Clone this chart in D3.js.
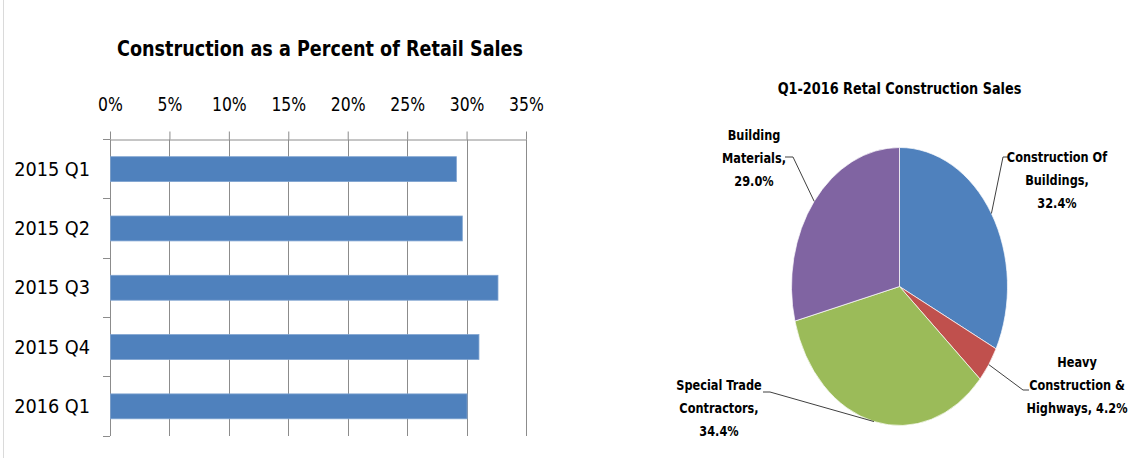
<!DOCTYPE html>
<html>
<head>
<meta charset="utf-8">
<script src="https://cdn.jsdelivr.net/npm/d3@7"></script>
<style>
body { margin: 0; background: #fff; }
svg { display: block; }
text { font-family: "DejaVu Sans Condensed", "Liberation Sans Narrow", sans-serif; fill: #000; }
</style>
</head>
<body>
<div id="chart-area"></div>
<script>
// bar chart data
var quarters = ["2015 Q1", "2015 Q2", "2015 Q3", "2015 Q4", "2016 Q1"];
var constructionPct = [29.1, 29.6, 32.6, 31.0, 30.0];
var pctTicks = [0, 5, 10, 15, 20, 25, 30, 35];

// pie data
var segments = ["Construction Of Buildings", "Heavy Construction & Highways", "Special Trade Contractors", "Building Materials"];
var segmentPct = [32.4, 4.2, 34.4, 29.0];
var segmentColors = ["#4f81bd", "#c0504d", "#9bbb59", "#8064a2"];
var labelWraps = [[2, 1, 1], [1, 2, 2], [2, 1, 1], [1, 1, 1]]; // words per line

var svg = d3.select("#chart-area").append("svg")
    .attr("width", 1128)
    .attr("height", 463);

svg.append("line")
    .attr("x1", 3.5).attr("x2", 3.5)
    .attr("y1", 0).attr("y2", 458)
    .attr("stroke", "#dadada");

// the source glyphs are a little taller than the substitute font
function tallText(g, str, x, y, size, stretch, anchor, bold) {
    return g.append("text")
        .attr("transform", "translate(" + x + "," + y + ") scale(1," + stretch + ")")
        .attr("text-anchor", anchor)
        .attr("dominant-baseline", "central")
        .style("font-size", size + "px")
        .style("font-weight", bold ? "bold" : "normal")
        .text(str);
}

// ---------- left: bar chart ----------
var x = d3.scaleLinear().domain([0, 35]).range([110, 526]);
var y = d3.scaleBand().domain(quarters).range([139.5, 436])
    .paddingInner(0.58).paddingOuter(0.29);

tallText(svg, "Construction as a Percent of Retail Sales", 320, 49, 19.6, 1.12, "middle", true);

var grid = svg.append("g");
pctTicks.forEach((t)=>{
    grid.append("line")
        .attr("x1", Math.round(x(t)) + 0.5).attr("x2", Math.round(x(t)) + 0.5)
        .attr("y1", 139.5).attr("y2", 436)
        .attr("stroke", "#8c8c8c");
});

var topAxis = svg.append("g")
    .attr("transform", "translate(0,139.5)")
    .call(d3.axisTop(x).tickValues(pctTicks).tickSize(8).tickSizeOuter(0)
        .tickFormat((d)=> d + "%"));
topAxis.select(".domain").attr("stroke", "#8c8c8c");
topAxis.selectAll(".tick line").attr("stroke", "#8c8c8c");
topAxis.selectAll(".tick text")
    .attr("y", null).attr("dy", null)
    .attr("dominant-baseline", "central")
    .attr("transform", "translate(0,-35) scale(1,1.1)")
    .style("font-size", "17.4px");

// category ticks between bands
var edges = quarters.map((q)=> y(q) - y.step() * y.paddingInner() / 2);
edges.push(436);
edges[0] = 139.5;
edges.forEach((e)=>{
    svg.append("line")
        .attr("x1", 103).attr("x2", 110)
        .attr("y1", Math.round(e - 0.5) + 0.5).attr("y2", Math.round(e - 0.5) + 0.5)
        .attr("stroke", "#8c8c8c");
});

quarters.forEach((q, i)=>{
    svg.append("rect")
        .attr("x", x(0) + 0.5)
        .attr("y", y(q))
        .attr("width", x(constructionPct[i]) - x(0))
        .attr("height", y.bandwidth())
        .attr("fill", "#4f81bd")
        .attr("stroke", "#7fa3d0")
        .attr("stroke-width", 0.8);
    tallText(svg, q, 90, y(q) + y.bandwidth() / 2, 19.7, 1.02, "end", false);
});

// ---------- right: pie ----------
var cx = 899.5, cy = 286.5, rx = 108, ry = 139;
tallText(svg, "Q1-2016 Retal Construction Sales", cx, 89, 14.3, 1.1, "middle", true);

var slices = d3.pie().sort(null).value((d)=> d)(segmentPct);
var arc = d3.arc().innerRadius(0).outerRadius(rx);

svg.append("g")
    .attr("transform", "translate(" + cx + "," + cy + ") scale(1," + (ry / rx) + ")")
    .selectAll("path")
    .data(slices)
    .enter().append("path")
    .attr("d", arc)
    .attr("fill", (d, i)=> segmentColors[i])
    .attr("stroke", "#ffffff")
    .attr("stroke-width", 0.7)
    .attr("vector-effect", "non-scaling-stroke");

// label placement (layout only)
var labelLayout = [
    {x: 1057, y: 157, elbow: [1003, 157], end: [1008, 157]},
    {x: 1077, y: 362, elbow: [1023, 390], end: [1029, 390]},
    {x: 719,  y: 385, elbow: [770, 392],  end: [763, 392]},
    {x: 754,  y: 135, elbow: [793, 157],  end: [785, 157]}
];

slices.forEach((s, i)=>{
    var a = (s.startAngle + s.endAngle) / 2;
    var ex = cx + rx * Math.sin(a), ey = cy - ry * Math.cos(a);
    var L = labelLayout[i];
    svg.append("polyline")
        .attr("points", [[ex, ey], L.elbow, L.end].map((p)=> p.join(",")).join(" "))
        .attr("fill", "none")
        .attr("stroke", "#404040")
        .attr("stroke-width", 1);

    var words = (segments[i] + ", " + segmentPct[i].toFixed(1) + "%").split(" ");
    var k = 0;
    labelWraps[i].forEach((n, j)=>{
        tallText(svg, words.slice(k, k + n).join(" "), L.x, L.y + j * 23, 12.6, 1.15, "middle", true);
        k += n;
    });
});
</script>
</body>
</html>
